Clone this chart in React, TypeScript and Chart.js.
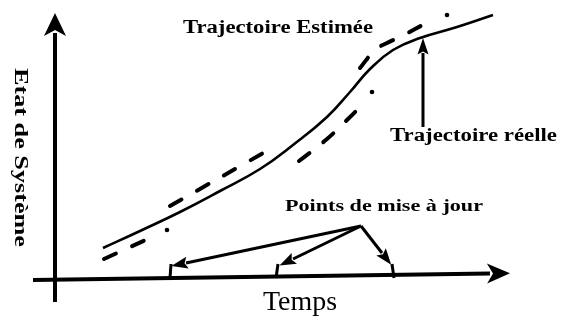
import React, { useEffect, useRef } from 'react';
import { Chart, registerables } from 'chart.js';

Chart.register(...registerables);

// Coordinates: t = time (origin at axis crossing), e = system state
// Real trajectory (solid)
const realT = [48, 85, 125, 165, 205, 238, 272, 295, 315, 338, 365, 402, 438];
const realE = [31, 48, 67, 88, 110, 134, 162, 187, 210, 229, 241, 252, 264];

// Estimated trajectory (dashed), one piece between update points
const estAT = [49, 97];
const estAE = [20, 42];
const estBT = [115, 217];
const estBE = [73, 131];
const estCT = [244, 272, 293, 305];
const estCE = [118, 140, 160, 172];
const estDT = [305, 320, 332, 345, 375];
const estDE = [211, 229, 236, 242, 258];
const estDotT = [112, 317, 392];
const estDotE = [49, 187, 264];

// Update instants on the time axis (small marks)
const updBaseT = [115, 221, 339];
const updTopT = [116, 223, 337];
const updBaseE = 1;
const updTopE = 15;

// Callout "Points de mise à jour": apex and arrow ends
const calloutT = 306;
const calloutE = 53;
const calloutEndT = [131, 238, 327];
const calloutEndE = [16, 20, 26];

// Callout "Trajectoire réelle"
const realCalloutT = [368, 368];
const realCalloutE = [152, 226];

// Axes
const xAxisT = [-22, 435];
const xAxisE = [-1, 5.5];
const yAxisT = [0, 0];
const yAxisE = [-23, 246];

// Texts
const titleEstimee = 'Trajectoire Estimée';
const titleReelle = 'Trajectoire réelle';
const titleUpdates = 'Points de mise à jour';
const xTitle = 'Temps';
const yTitle = 'Etat de Système';

const pts = (ts: number[], es: number[]) => ts.map((t, i) => ({ x: t, y: es[i] }));

const SERIF = '"Liberation Serif", "DejaVu Serif", "Times New Roman", serif';

const arrowPlugin = {
  id: 'arrowHeads',
  afterDatasetsDraw(chart: any) {
    const ctx = chart.ctx;
    chart.data.datasets.forEach((ds: any, i: number) => {
      if (!ds.head) return;
      const meta = chart.getDatasetMeta(i);
      const p = meta.data;
      if (p.length < 2) return;
      const a = p[p.length - 2];
      const b = p[p.length - 1];
      const dx = b.x - a.x;
      const dy = b.y - a.y;
      const L = Math.hypot(dx, dy) || 1;
      const ux = dx / L;
      const uy = dy / L;
      const nx = -uy;
      const ny = ux;
      const { len, half, notch } = ds.head;
      ctx.save();
      ctx.fillStyle = '#000';
      ctx.beginPath();
      ctx.moveTo(b.x + ux * len, b.y + uy * len);
      ctx.lineTo(b.x + nx * half - ux * notch, b.y + ny * half - uy * notch);
      ctx.lineTo(b.x + ux * notch, b.y + uy * notch);
      ctx.lineTo(b.x - nx * half - ux * notch, b.y - ny * half - uy * notch);
      ctx.closePath();
      ctx.fill();
      ctx.restore();
    });
  },
};

function drawFitText(
  ctx: CanvasRenderingContext2D,
  text: string,
  x: number,
  y: number,
  w: number,
  font: string,
  rot = 0,
  baseline: CanvasTextBaseline = 'alphabetic'
) {
  ctx.save();
  ctx.font = font;
  ctx.fillStyle = '#000';
  ctx.textAlign = 'left';
  ctx.textBaseline = baseline;
  const m = ctx.measureText(text).width || 1;
  ctx.translate(x, y);
  if (rot) ctx.rotate(rot);
  ctx.scale(w / m, 1);
  ctx.fillText(text, 0, 0);
  ctx.restore();
}

const textPlugin = {
  id: 'diagramTexts',
  afterDraw(chart: any) {
    const ctx = chart.ctx as CanvasRenderingContext2D;
    drawFitText(ctx, titleEstimee, 183, 33, 190, `bold 18px ${SERIF}`);
    drawFitText(ctx, titleReelle, 390, 141, 167, `bold 18px ${SERIF}`);
    drawFitText(ctx, titleUpdates, 285, 211, 198, `bold 17px ${SERIF}`);
    drawFitText(ctx, xTitle, 263, 310, 74, `27px ${SERIF}`);
    drawFitText(ctx, yTitle, 20, 68, 179, `bold 19px ${SERIF}`, Math.PI / 2, 'middle');
  },
};

export default function App() {
  const ref = useRef<HTMLCanvasElement | null>(null);

  useEffect(() => {
    if (!ref.current) return;
    const black = '#000';
    const lineBase = {
      showLine: true,
      borderColor: black,
      backgroundColor: black,
      pointRadius: 0,
      fill: false,
    };
    const dashed = {
      ...lineBase,
      borderWidth: 4,
      borderDash: [13, 18],
      borderCapStyle: 'round',
      tension: 0.4,
    };
    const datasets: any[] = [
      { ...lineBase, label: 'axeX', data: pts(xAxisT, xAxisE), borderWidth: 4, head: { len: 20, half: 10, notch: 3 } },
      { ...lineBase, label: 'axeY', data: pts(yAxisT, yAxisE), borderWidth: 4, head: { len: 20, half: 11, notch: 3 } },
      {
        ...lineBase,
        label: 'Trajectoire réelle',
        data: pts(realT, realE),
        borderWidth: 2.6,
        tension: 0.45,
      },
      { ...dashed, label: 'Estimée A', data: pts(estAT, estAE) },
      { ...dashed, label: 'Estimée B', data: pts(estBT, estBE) },
      { ...dashed, label: 'Estimée C', data: pts(estCT, estCE) },
      { ...dashed, label: 'Estimée D', data: pts(estDT, estDE) },
      {
        label: 'Estimée points',
        data: pts(estDotT, estDotE),
        showLine: false,
        pointRadius: 2.3,
        pointBackgroundColor: black,
        pointBorderWidth: 0,
      },
      {
        ...lineBase,
        label: 'réelle flèche',
        data: pts(realCalloutT, realCalloutE),
        borderWidth: 3,
        head: { len: 15, half: 5.5, notch: 1.5 },
      },
    ];
    calloutEndT.forEach((t, i) => {
      datasets.push({
        ...lineBase,
        label: 'maj flèche ' + i,
        data: [
          { x: calloutT, y: calloutE },
          { x: t, y: calloutEndE[i] },
        ],
        borderWidth: 3,
        head: { len: 15, half: 6, notch: 1.5 },
      });
    });
    updBaseT.forEach((t, i) => {
      datasets.push({
        ...lineBase,
        label: 'maj ' + i,
        data: [
          { x: t, y: updBaseE },
          { x: updTopT[i], y: updTopE },
        ],
        borderWidth: 3,
      });
    });

    const chart = new Chart(ref.current, {
      type: 'scatter',
      data: { datasets },
      options: {
        responsive: false,
        animation: false,
        events: [],
        layout: { padding: 0, autoPadding: false } as any,
        plugins: { legend: { display: false }, tooltip: { enabled: false } },
        scales: {
          x: { type: 'linear', display: false, min: -55, max: 506 },
          y: { type: 'linear', display: false, min: -41, max: 279 },
        },
      },
      plugins: [arrowPlugin, textPlugin],
    } as any);
    return () => chart.destroy();
  }, []);

  return (
    <div style={{ position: 'fixed', left: 0, top: 0, width: 561, height: 320, background: '#fff' }}>
      <canvas ref={ref} width={561} height={320} style={{ display: 'block', width: 561, height: 320 }} />
    </div>
  );
}
